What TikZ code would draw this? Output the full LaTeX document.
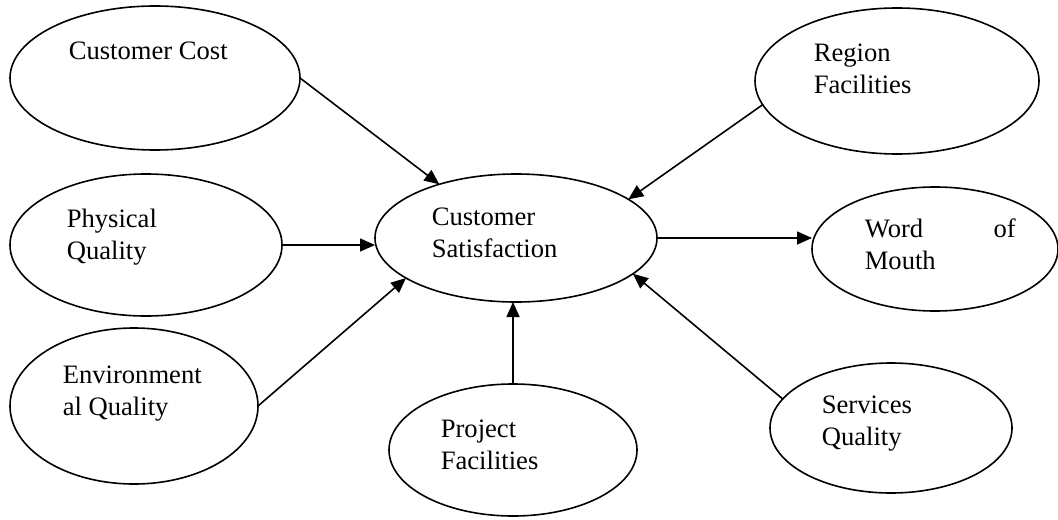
\documentclass[tikz,border=0pt]{standalone}
\usepackage{fontspec}
\setmainfont{Liberation Serif}
\usetikzlibrary{shapes.geometric,arrows.meta}
\begin{document}
\begin{tikzpicture}[x = .5pt, y = -.5pt, line join = round, line cap = round, >={Triangle[length = 7.5pt, width = 6.5pt]}, thick, font = \fontsize{13.3}{16}\selectfont,
	oval/.style = {ellipse, draw = black, inner sep = 0pt, outer sep = 0pt},
	txt/.style = {anchor = base west, inner sep = 0pt, align = left}]
	%		\draw[gray!50] (0,0) grid (1058,519);
	\useasboundingbox (0,0) rectangle (1058,519);
	
	\node[oval, minimum width = 145pt, minimum height = 72pt] (cc) at (155,78) {};
	\node[oval, minimum width = 136pt, minimum height = 71pt] (pq) at (146,245) {};
	\node[oval, minimum width = 124pt, minimum height = 78pt] (ev) at (134,406) {};
	\node[oval, minimum width = 141pt, minimum height = 64pt] (cs) at (516,238) {};
	\node[oval, minimum width = 124pt, minimum height = 66pt] (pf) at (513,450) {};
	\node[oval, minimum width = 142pt, minimum height = 73pt] (rf) at (897,81) {};
	\node[oval, minimum width = 123pt, minimum height = 62pt] (wm) at (935,249) {};
	\node[oval, minimum width = 121pt, minimum height = 65pt] (sq) at (891,428) {};
	
	% base = last line
	\node[txt] (cc-t) at (68,60) {Customer Cost};
	\node[txt] (pq-t) at (66,259) {Physical\\Quality};
	\node[txt] (ev-t) at (62,415) {Environment\\al Quality};
	\node[txt] (cs-t) at (431,257) {Customer\\Satisfaction};
	\node[txt] (pf-t) at (440,469) {Project\\Facilities};
	\node[txt] (rf-t) at (813,93) {Region\\Facilities};
	\node[txt] (wm-t) at (864,269) {\makebox[75.5pt][s]{Word of}\\Mouth};
	\node[txt] (sq-t) at (821,445) {Services\\Quality};
	
	\draw[->] (cc.east) -- (cs.145);
	\draw[->] (pq.east) -- (pq.east -| cs.west);
	\draw[->] (ev.east) -- (cs.200);
	\draw[->] (pf.north) -- (pf.north |- cs.south);
	\draw[->] (rf.190) -- (cs.19);
	\draw[->] (sq.165) -- (cs.343);
	\draw[->] (cs.east) -- (cs.east -| wm.west);
\end{tikzpicture}
\end{document}
